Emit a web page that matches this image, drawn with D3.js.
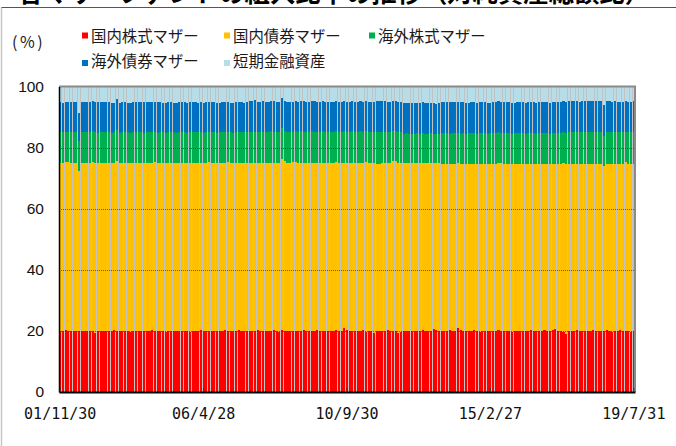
<!DOCTYPE html>
<html>
<head>
<meta charset="utf-8">
<script src="https://cdn.jsdelivr.net/npm/d3@7"></script>
<style>
  html, body { margin: 0; padding: 0; background: #fff; }
  svg { display: block; }
</style>
</head>
<body>
<svg id="chart" width="676" height="446"></svg>
<script>
// ---------------- DATA ----------------
const titleText = "各マザーファンドの組入比率の推移（対純資産総額比）";
const seriesNames = ["国内株式マザー", "国内債券マザー", "海外株式マザー", "海外債券マザー", "短期金融資産"];
const seriesKeys = ["domEq", "domBond", "forEq", "forBond", "cash"];
const startMonth = "2001-11";
const endMonth = "2019-07";
const tickMonths = ["2001-11", "2006-04", "2010-09", "2015-02", "2019-07"];
const tickLabels = ["01/11/30", "06/4/28", "10/9/30", "15/2/27", "19/7/31"];
const yTicks = [0, 20, 40, 60, 80, 100];

const domEq = [
20.1,20.0,20.2,20.0,19.9,20.1,20.0,20.0,19.8,20.1,
20.0,20.1,19.9,19.4,20.0,20.1,20.0,19.9,20.1,20.0,
20.2,20.0,19.9,20.0,20.1,20.0,19.8,20.0,20.1,20.0,
20.0,19.9,20.1,20.0,20.2,20.0,19.9,20.0,20.1,19.8,
20.0,20.1,20.0,19.9,20.0,20.1,20.0,19.9,19.5,20.0,
20.1,20.0,20.2,20.0,19.9,20.0,20.1,20.0,19.9,20.1,
20.0,20.2,20.1,20.0,19.9,20.1,20.2,20.0,20.1,20.0,
19.9,20.1,20.0,20.2,20.0,20.1,19.9,20.0,20.1,20.2,
20.0,19.8,20.3,20.0,20.1,20.0,19.9,20.1,20.0,20.1,
20.2,20.0,19.9,20.1,20.0,20.2,20.1,20.0,19.9,20.0,
20.1,20.0,20.2,19.9,20.0,20.9,20.4,20.1,20.0,19.9,
20.1,20.0,20.2,19.8,20.0,20.1,19.4,20.0,20.1,19.9,
20.0,20.2,20.0,19.9,20.1,19.2,19.8,20.0,20.1,20.0,
19.9,20.0,20.1,20.0,20.2,19.9,20.0,20.1,20.7,20.2,
20.0,19.9,20.1,20.0,20.2,20.0,20.1,20.9,20.3,20.0,
19.9,20.1,20.0,20.2,19.9,19.5,20.0,20.1,19.9,20.0,
20.1,20.0,20.2,19.9,20.0,20.1,20.0,19.8,20.1,20.0,
20.0,20.1,19.9,20.0,20.2,20.0,19.9,20.1,20.0,20.2,
20.0,19.9,20.2,20.7,20.1,20.0,19.8,19.1,19.9,20.1,
20.0,20.2,19.9,20.0,20.1,20.0,19.9,20.2,20.0,20.1,
19.9,20.0,20.2,20.0,19.8,20.1,20.0,20.2,19.9,20.0,
20.1,19.8,20.0];

const domBond = [
54.8,54.9,55.1,55.2,54.9,54.7,54.8,52.3,55.0,54.7,
54.8,54.7,55.3,55.4,54.8,54.7,54.8,54.9,54.7,54.8,
54.6,55.5,54.9,54.8,54.7,54.8,55.0,54.8,54.7,54.8,
54.8,54.9,54.7,54.8,54.6,55.3,54.9,54.8,54.7,55.0,
54.8,54.7,54.8,54.9,54.8,54.7,54.8,54.9,55.3,54.8,
54.7,54.8,54.6,54.8,54.9,55.3,54.7,54.8,54.9,54.7,
54.8,54.6,55.2,54.8,54.9,54.7,54.6,54.8,54.7,54.8,
54.9,54.8,54.9,54.7,54.9,54.8,55.0,54.9,54.8,54.7,
54.9,55.2,55.9,55.5,54.8,54.9,55.3,55.1,54.9,54.8,
54.7,54.9,55.0,54.8,54.9,54.7,54.8,54.9,55.0,54.9,
54.8,54.9,55.2,55.0,54.9,54.1,54.5,54.8,54.9,55.0,
54.8,54.9,54.7,55.6,54.9,54.8,55.4,54.9,54.8,55.0,
54.9,54.7,54.9,55.6,55.4,55.6,55.1,54.9,54.8,54.9,
55.0,54.9,54.8,54.9,54.7,55.0,54.9,54.8,54.1,54.6,
54.8,54.7,54.5,54.6,54.4,54.6,54.5,53.9,54.3,54.6,
54.7,54.5,54.6,54.4,54.7,55.2,54.6,54.5,54.7,54.6,
54.5,54.6,54.8,55.1,54.6,54.5,54.6,54.8,54.5,54.6,
54.6,54.5,54.7,54.6,54.4,54.6,54.7,54.5,54.6,54.4,
54.6,54.7,54.4,54.0,54.6,54.7,55.0,55.5,54.8,54.6,
54.7,54.5,54.8,54.7,54.6,54.7,54.8,54.5,54.7,54.6,
54.8,54.0,54.5,54.7,54.9,54.6,54.7,54.5,54.8,55.4,
54.6,54.9,54.7];

const forEq = [
10.2,10.1,10.0,9.9,10.2,10.3,10.2,9.7,10.1,10.2,
10.2,10.3,10.3,10.2,10.1,10.2,10.3,10.2,10.2,10.1,
10.2,10.3,10.1,10.2,10.3,10.2,10.1,10.2,10.2,10.3,
10.2,10.1,10.2,10.3,10.2,9.9,10.1,10.2,10.2,10.1,
10.2,10.3,10.2,10.1,10.2,10.3,10.2,10.1,10.2,10.2,
10.3,10.2,10.2,10.1,10.2,9.9,10.3,10.2,10.1,10.2,
10.2,10.3,9.8,10.2,10.1,10.2,10.3,10.2,10.2,10.1,
10.2,10.3,10.4,10.3,10.2,10.3,10.2,10.3,10.4,10.3,
10.2,10.1,10.1,9.9,10.3,10.2,10.0,10.1,10.3,10.4,
10.3,10.2,10.3,10.4,10.3,10.2,10.3,10.4,10.2,10.3,
10.3,10.2,10.0,10.3,10.4,10.3,10.2,10.3,10.4,10.2,
10.3,10.4,10.3,10.0,10.3,10.2,10.3,10.5,10.6,10.4,
10.4,10.3,10.3,10.0,10.0,10.3,10.2,9.7,9.8,9.7,
9.6,9.7,9.8,9.7,9.9,9.6,9.7,9.8,9.7,9.6,
9.8,10.1,10.2,10.1,10.0,10.1,10.2,10.1,10.0,10.1,
10.0,10.1,10.2,10.1,10.0,10.1,10.2,10.1,10.0,10.1,
10.2,10.1,10.0,9.8,10.1,10.2,10.1,10.0,10.1,10.2,
10.1,10.2,10.0,10.1,10.2,10.1,10.0,10.2,10.1,10.2,
10.1,10.0,10.2,10.1,10.0,10.1,10.2,10.1,10.3,10.4,
10.4,10.5,10.3,10.4,10.5,10.4,10.3,10.5,10.4,10.4,
10.3,9.9,10.4,10.5,10.3,10.4,10.3,10.4,10.3,9.8,
10.4,10.3,10.4];

const forBond = [
9.8,9.7,9.8,9.9,9.8,9.7,9.8,9.3,9.8,9.9,
9.8,9.7,9.8,9.8,9.9,9.8,9.7,9.8,9.9,9.8,
9.7,10.1,9.8,9.9,9.8,9.7,9.8,9.8,9.9,9.7,
9.8,9.9,9.8,9.7,9.8,9.8,9.9,9.8,9.7,9.8,
9.9,9.8,9.7,9.8,9.9,9.8,9.8,9.7,9.8,9.9,
9.8,9.7,9.9,9.8,9.8,9.7,9.9,9.8,9.8,9.7,
9.8,9.9,9.8,9.7,9.8,9.9,9.8,9.8,9.7,9.9,
10.2,9.9,10.4,9.8,9.7,9.9,9.8,9.7,9.8,9.9,
9.8,9.9,10.0,9.9,9.7,9.8,9.9,9.8,9.7,9.8,
9.9,9.8,9.7,9.8,9.9,9.8,9.7,9.8,9.9,9.8,
9.7,9.8,9.9,9.8,9.7,9.8,9.9,9.8,9.8,9.7,
9.8,9.9,9.8,9.7,9.8,9.9,9.8,10.0,10.1,10.0,
10.0,9.8,9.7,9.8,9.9,9.8,9.8,10.0,9.9,10.0,
10.1,10.0,9.9,10.0,10.1,10.0,9.9,10.0,10.1,10.0,
10.0,10.1,10.0,10.1,10.2,10.1,10.0,10.1,10.2,10.1,
10.1,10.0,10.1,10.2,10.1,10.0,10.1,10.2,10.1,10.0,
10.1,10.2,10.1,10.0,10.1,10.1,10.2,10.1,10.0,10.1,
10.2,10.1,10.0,10.1,10.2,10.1,10.1,10.0,10.1,10.2,
10.1,10.0,10.1,10.2,10.1,10.0,10.1,10.1,10.2,10.1,
10.2,10.1,10.0,10.1,10.2,10.1,10.1,10.2,10.1,10.0,
10.1,10.1,10.0,9.9,10.0,10.1,10.0,9.9,10.0,10.0,
9.9,10.0,10.0];

const cash = [
5.2,5.3,5.1,5.0,5.2,5.2,5.2,8.7,5.2,5.1,
5.2,5.2,4.7,5.2,5.2,5.2,5.2,5.2,5.1,5.3,
5.3,4.1,5.3,5.1,5.1,5.3,5.3,5.2,5.1,5.2,
5.2,5.2,5.2,5.2,5.2,5.0,5.2,5.2,5.3,5.3,
5.1,5.1,5.3,5.3,5.1,5.1,5.2,5.4,5.2,5.1,
5.1,5.3,5.1,5.3,5.2,5.1,5.0,5.2,5.3,5.3,
5.2,5.0,5.1,5.3,5.3,5.1,5.1,5.2,5.3,5.1,
4.8,4.9,4.4,5.0,5.2,4.9,5.1,5.1,4.9,4.9,
5.1,5.0,3.7,4.7,5.1,5.1,5.0,4.9,5.1,4.9,
4.9,5.1,5.1,4.9,4.9,5.1,5.1,4.9,5.0,5.0,
5.1,5.1,4.7,5.0,5.1,4.9,5.0,5.0,4.9,5.2,
5.0,4.8,5.0,4.9,5.0,5.0,5.1,4.8,4.8,4.8,
4.8,5.0,5.1,4.7,4.6,5.1,5.1,5.4,5.4,5.4,
5.4,5.4,5.4,5.4,5.1,5.5,5.5,5.3,5.4,5.6,
5.4,5.2,5.2,5.2,5.2,5.2,5.2,5.0,5.2,5.2,
5.3,5.3,5.1,5.1,5.3,5.2,5.1,5.1,5.3,5.3,
5.1,5.1,4.9,5.2,5.2,5.1,5.1,5.3,5.3,5.1,
5.1,5.1,5.4,5.2,5.0,5.2,5.3,5.2,5.2,5.0,
5.2,5.4,5.1,5.0,5.2,5.2,4.9,5.2,4.7,4.8,
4.7,4.7,5.0,4.8,4.6,4.8,4.9,4.6,4.8,4.9,
4.9,6.0,4.9,4.9,5.0,4.8,5.0,5.0,5.0,4.8,
5.0,5.0,4.9];

// ---------------- STYLE / LAYOUT ----------------
const colors = ["#ff0000", "#ffc000", "#00b050", "#0070c0", "#b7dee8"];
const W = 676, H = 446;
const plot = { left: 59, right: 635, top: 86.5, bottom: 392 };

const fmt = d3.utcFormat("%Y-%m");
const parse = d3.utcParse("%Y-%m");
const months = d3.utcMonth.range(parse(startMonth), d3.utcMonth.offset(parse(endMonth), 1)).map(fmt);
const seriesData = [domEq, domBond, forEq, forBond, cash];

const rows = months.map((m, i) => {
  const r = { month: m };
  seriesKeys.forEach((k, j) => { r[k] = seriesData[j][i]; });
  return r;
});

const stacked = d3.stack().keys(seriesKeys).offset(d3.stackOffsetExpand)(rows);

const x = d3.scaleBand().domain(months).range([plot.left, plot.right]).paddingInner(0.22).paddingOuter(0.05);
const y = d3.scaleLinear().domain([0, 1]).range([plot.bottom, plot.top]);

const svg = d3.select("#chart");

// title (cropped at top, as in the reference)
svg.append("text")
  .attr("x", 18).attr("y", 2)
  .attr("font-family", "'Noto Sans CJK JP', sans-serif")
  .attr("font-weight", "bold")
  .attr("font-size", 26)
  .attr("textLength", 632)
  .attr("lengthAdjust", "spacingAndGlyphs")
  .attr("fill", "#000")
  .text(titleText);

// frame of the chart box
svg.append("line").attr("x1", 1).attr("x2", W).attr("y1", 7.5).attr("y2", 7.5)
  .attr("stroke", "#555").attr("stroke-width", 1);
svg.append("line").attr("x1", 1.5).attr("x2", 1.5).attr("y1", 7.5).attr("y2", H)
  .attr("stroke", "#c8c8c8").attr("stroke-width", 1.5);

// plot background (shows as gaps between bars)
svg.append("rect")
  .attr("x", plot.left).attr("y", plot.top)
  .attr("width", plot.right - plot.left).attr("height", plot.bottom - plot.top)
  .attr("fill", "#c2c2c2");

// bars
const g = svg.append("g").attr("shape-rendering", "crispEdges");
g.selectAll("g.layer").data(stacked).join("g")
  .attr("class", "layer")
  .attr("fill", (d, i) => colors[i])
  .selectAll("rect").data(d => d).join("rect")
  .attr("x", d => x(d.data.month))
  .attr("width", x.bandwidth())
  .attr("y", d => y(d[1]))
  .attr("height", d => y(d[0]) - y(d[1]));

// gridlines
svg.append("g").selectAll("line")
  .data(yTicks.filter(t => t > 0 && t < 100))
  .join("line")
  .attr("x1", plot.left).attr("x2", plot.right)
  .attr("y1", d => Math.round(y(d / 100)) + 0.5).attr("y2", d => Math.round(y(d / 100)) + 0.5)
  .attr("stroke", "#3a3a3a").attr("stroke-width", 1)
  .attr("stroke-dasharray", "1,1").attr("opacity", 0.75);

// plot frame top / right
svg.append("path")
  .attr("d", `M${plot.left},${plot.top} H${plot.right} V${plot.bottom}`)
  .attr("fill", "none").attr("stroke", "#8a8a8a").attr("stroke-width", 2);

// y axis
const yAxis = svg.append("g")
  .attr("transform", `translate(${plot.left},0)`)
  .call(d3.axisLeft(y).tickValues(yTicks.map(t => t / 100)).tickFormat(d => Math.round(d * 100)).tickSize(0).tickPadding(15));
yAxis.select(".domain").attr("stroke", "#000").attr("stroke-width", 1.5);
yAxis.selectAll("text")
  .attr("font-family", "'Liberation Sans', Arial, sans-serif")
  .attr("font-size", 15.5).attr("fill", "#111");

// x axis
const tickMap = new Map(tickMonths.map((m, i) => [m, tickLabels[i]]));
const xAxis = svg.append("g")
  .attr("transform", `translate(0,${plot.bottom})`)
  .call(d3.axisBottom(x).tickValues(tickMonths).tickFormat(m => tickMap.get(m)).tickSize(0).tickPadding(16));
xAxis.select(".domain").attr("stroke", "#000").attr("stroke-width", 2);
xAxis.selectAll("text")
  .attr("font-family", "'DejaVu Sans Mono', monospace")
  .attr("font-size", 15).attr("fill", "#111");

// inward x tick marks
svg.append("g").selectAll("line").data(tickMonths).join("line")
  .attr("x1", m => x(m) + x.bandwidth() / 2).attr("x2", m => x(m) + x.bandwidth() / 2)
  .attr("y1", plot.bottom).attr("y2", plot.bottom - 4)
  .attr("stroke", "#333").attr("stroke-width", 1);

// unit label
svg.append("text")
  .attr("x", 12).attr("y", 41)
  .attr("dominant-baseline", "central")
  .attr("font-family", "'Noto Sans CJK JP', sans-serif")
  .attr("font-size", 16).attr("letter-spacing", 2.5).attr("fill", "#1a1a1a")
  .text("(%)");

// legend
const legendPos = [
  { sx: 82, sy: 32.5, tx: 91, ty: 35 },
  { sx: 224, sy: 32.5, tx: 233, ty: 35 },
  { sx: 369, sy: 32.5, tx: 378, ty: 35 },
  { sx: 82, sy: 60, tx: 91, ty: 60 },
  { sx: 224, sy: 60, tx: 233, ty: 60 }
];
const lg = svg.append("g");
seriesNames.forEach((name, i) => {
  const p = legendPos[i];
  lg.append("rect").attr("x", p.sx).attr("y", p.sy).attr("width", 6).attr("height", 6).attr("fill", colors[i]);
  lg.append("text").attr("x", p.tx).attr("y", p.ty)
    .attr("dominant-baseline", "central")
    .attr("font-family", "'Noto Sans CJK JP', sans-serif")
    .attr("font-size", 15.4).attr("fill", "#1a1a1a")
    .text(name);
});
</script>
</body>
</html>
